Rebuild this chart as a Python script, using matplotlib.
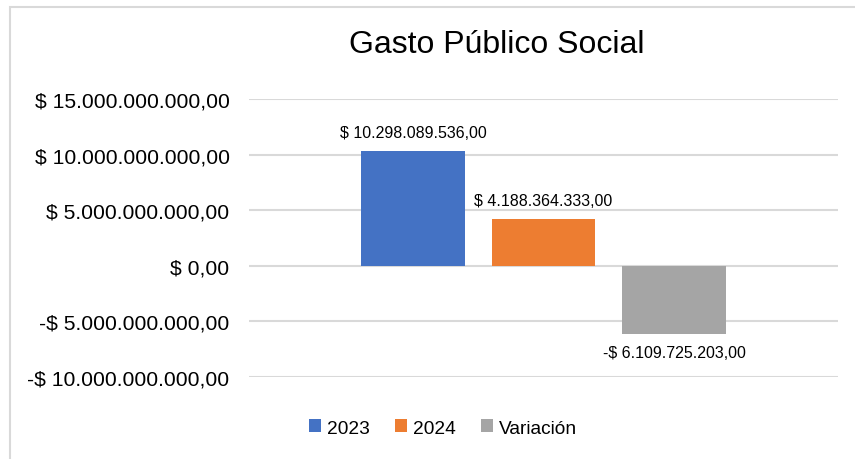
import matplotlib
matplotlib.use("Agg")
import matplotlib.pyplot as plt
from matplotlib.patches import Rectangle
from matplotlib.ticker import FuncFormatter

plt.rcParams['font.family'] = ['Liberation Sans', 'DejaVu Sans']

title = "Gasto Público Social"
series = ["2023", "2024", "Variación"]
values = [10298089536.00, 4188364333.00, -6109725203.00]
colors = ["#4472C4", "#ED7D31", "#A5A5A5"]
yticks = [-10e9, -5e9, 0, 5e9, 10e9, 15e9]


def fmt(v, pos=None):
    s = f"{abs(v):,.2f}".replace(",", "X").replace(".", ",").replace("X", ".")
    return ("-$ " if v < 0 else "$ ") + s


W, H = 855, 460
fig = plt.figure(figsize=(W / 100, H / 100), dpi=100)
fig.patch.set_facecolor("white")

# chart border
fig.add_artist(Rectangle((10 / W, -0.1), 1.2, 1 - 8 / H + 0.1, transform=fig.transFigure,
                         fill=False, edgecolor="#D9D9D9", linewidth=1.5))

ax = fig.add_axes([249 / W, 1 - 378 / H, (838 - 249) / W, (378 - 100) / H])
ax.set_xlim(-0.5, 0.5)
ax.set_ylim(min(yticks), max(yticks))
ax.set_yticks(yticks)
ax.yaxis.set_major_formatter(FuncFormatter(fmt))
ax.tick_params(axis='y', length=0, pad=14, labelsize=15.2)
ax.set_xticks([])
for sp in ax.spines.values():
    sp.set_visible(False)
ax.grid(axis='y', color="#D9D9D9", linewidth=1.5)
ax.set_axisbelow(True)

bw = 0.175
step = 0.2215
n = len(series)
for i, (name, v, c) in enumerate(zip(series, values, colors)):
    x = (i - (n - 1) / 2) * step
    ax.bar(x, v, width=bw, color=c, label=name, zorder=3)
    off = 1.0e9
    ax.text(x, v + (off if v >= 0 else -off), fmt(v), ha='center',
            va='bottom' if v >= 0 else 'top', fontsize=11.5, color="#000000")

fig.text(497 / W, 1 - 45 / H, title, ha='center', va='center', fontsize=23)

leg = fig.legend(loc='center', bbox_to_anchor=(443 / W, 1 - 429 / H), ncol=3, frameon=False,
                 fontsize=13.8, handlelength=0.65, handleheight=0.65, handletextpad=0.3,
                 columnspacing=1.3)

fig.savefig("out.png", dpi=100)
